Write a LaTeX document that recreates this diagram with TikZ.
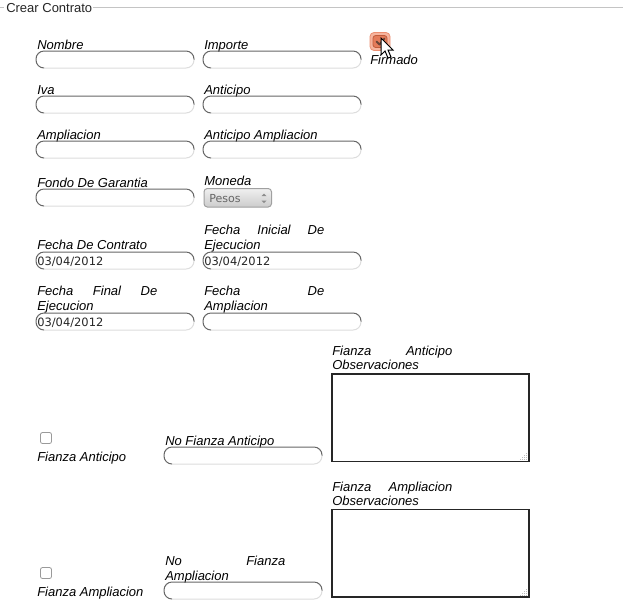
\documentclass[tikz,border=0pt]{standalone}
\usepackage{fontspec}
\setmainfont{Liberation Sans}
\newfontfamily\datefont{DejaVu Sans}
\definecolor{flddark}{HTML}{666666}
\definecolor{fldlight}{HTML}{DDDDDD}
\definecolor{legline}{HTML}{C4C4C4}
\definecolor{chkborder}{HTML}{9A9A9A}
\definecolor{orglow}{HTML}{F6B49E}
\definecolor{orglowb}{HTML}{EC8E70}
\definecolor{orbox}{HTML}{E47B5A}
\definecolor{orboxb}{HTML}{C05C3C}
\definecolor{chkmark}{HTML}{6A4436}
\definecolor{selb}{HTML}{A0A0A0}
\definecolor{seltxt}{HTML}{666666}
\definecolor{grip}{HTML}{BBBBBB}
\tikzset{
  lbl/.style={anchor=base west, inner sep=0pt, font=\fontsize{9.75}{11}\selectfont\itshape},
  legtxt/.style={anchor=base west, inner sep=0pt, font=\fontsize{9.75}{11}\selectfont, text=black!85},
  datetxt/.style={anchor=base west, inner sep=0pt, font=\fontsize{8.6}{10}\datefont, text=black!85},
  dkline/.style={draw=flddark, line width=0.75pt, rounded corners=6pt},
  ltline/.style={draw=fldlight, line width=0.75pt, rounded corners=6pt},
  chkbox/.style={draw=chkborder, line width=0.6pt, rounded corners=1.5pt, fill=white},
  tarea/.style={draw=black!85, line width=1.1pt, fill=white},
}
% text field: x, y (top), name
\newcommand\tfld[3]{%
  \coordinate (#3) at (#1,#2);
  \draw[ltline] (#1+158,#2+8.5) -- (#1+158,#2+17) -- (#1+8,#2+17);
  \draw[dkline] (#1+8,#2+17) -- (#1,#2+17) -- (#1,#2) -- (#1+158,#2) -- (#1+158,#2+8.5);
}
% textarea: x1,y1,x2,y2,name
\newcommand\tarea[5]{%
  \draw[tarea] (#1,#2) rectangle (#3,#4);
  \coordinate (#5) at (#1,#2);
  \foreach \gx/\gy in {-3/-2,-5/-2,-7/-2,-9/-2,-3/-4,-5/-4,-7/-4,-3/-6,-5/-6,-3/-8}{
    \fill[grip] (#3+\gx-0.5,#4+\gy-0.5) rectangle ++(1,1);
  }
}
\begin{document}
\begin{tikzpicture}[x=0.75pt,y=-0.75pt]
\useasboundingbox (0,0) rectangle (623,612);
\fill[white] (0,0) rectangle (623,612);

% fieldset legend
\draw[legline, line width=0.75pt] (0,7) -- (4,7);
\draw[legline, line width=0.75pt] (93,7) -- (623,7);
\node[legtxt] (legend) at (6,12) {Crear Contrato};

% row 1
\node[lbl] (lNombre) at (37,49) {Nombre};
\node[lbl] (lImporte) at (204,49) {Importe};
\tfld{36}{51}{fNombre}
\tfld{203}{51}{fImporte}

% Firmado checkbox
\draw[fill=orglow, draw=orglowb, line width=0.6pt, rounded corners=3pt] (370,32.5) rectangle (390,50.5);
\draw[fill=orbox, draw=orboxb, line width=0.6pt, rounded corners=2pt] (373,35.5) rectangle (387,47.5);
\draw[chkmark, line width=1.4pt, line cap=round, line join=round] (376.5,41.5) -- (379.5,44.5) -- (384.5,38.5);
\node[lbl] (lFirmado) at (370,64) {Firmado};
% mouse cursor
\draw[fill=white, draw=black, line width=0.75pt, line join=miter] (381,38) -- (381,55) -- (385,51) -- (388,58) -- (391,57) -- (388,50) -- (393,50) -- cycle;

% row 2
\node[lbl] (lIva) at (37,94) {Iva};
\node[lbl] (lAnticipo) at (204,94) {Anticipo};
\tfld{36}{96}{fIva}
\tfld{203}{96}{fAnticipo}

% row 3
\node[lbl] (lAmpliacion) at (37,139) {Ampliacion};
\node[lbl] (lAntAmp) at (204,139) {Anticipo Ampliacion};
\tfld{36}{141}{fAmpliacion}
\tfld{203}{141}{fAntAmp}

% row 4
\node[lbl] (lFondo) at (37,187) {Fondo De Garantia};
\tfld{36}{189}{fFondo}
\node[lbl] (lMoneda) at (204,185) {Moneda};
\shade[top color=black!6, bottom color=black!20, rounded corners=2.5pt] (204,188.5) rectangle (271.5,207);
\draw[selb, line width=0.75pt, rounded corners=2.5pt] (204,188.5) rectangle (271.5,207);
\node[anchor=base west, inner sep=0pt, font=\fontsize{8.3}{10}\datefont, text=seltxt] (sPesos) at (209,202) {Pesos};
\fill[black!45] (261.5,196) -- (266.5,196) -- (264,193.5) -- cycle;
\fill[black!45] (261.5,200.5) -- (266.5,200.5) -- (264,203) -- cycle;

% row 5
\node[lbl] (lFContrato) at (37,249) {Fecha De Contrato};
\node[lbl] (lFIni1) at (204,234) {\makebox[90pt][s]{Fecha Inicial De}};
\node[lbl] (lFIni2) at (204,249) {Ejecucion};
\tfld{36}{252}{fFContrato}
\tfld{203}{252}{fFIni}
\node[datetxt] (dFContrato) at (37,265) {03/04/2012};
\node[datetxt] (dFIni) at (204,265) {03/04/2012};

% row 6
\node[lbl] (lFFin1) at (37,295) {\makebox[90pt][s]{Fecha Final De}};
\node[lbl] (lFFin2) at (37,310) {Ejecucion};
\node[lbl] (lFAmp1) at (204,295) {\makebox[90pt][s]{Fecha De}};
\node[lbl] (lFAmp2) at (204,310) {Ampliacion};
\tfld{36}{313}{fFFin}
\tfld{203}{313}{fFAmp}
\node[datetxt] (dFFin) at (37,326) {03/04/2012};

% Fianza Anticipo block
\node[lbl] (lFAObs1) at (332,355) {\makebox[90pt][s]{Fianza Anticipo}};
\node[lbl] (lFAObs2) at (332,369) {Observaciones};
\tarea{332}{374}{529}{461.5}{tFAObs}
\draw[chkbox] (40.5,432.5) rectangle (51.5,443.5);
\coordinate (cFA) at (40.5,432.5);
\node[lbl] (lFA) at (37,461) {Fianza Anticipo};
\node[lbl] (lNoFA) at (165,445) {No Fianza Anticipo};
\tfld{164}{447}{fNoFA}

% Fianza Ampliacion block
\node[lbl] (lFAmObs1) at (332,491) {\makebox[90pt][s]{Fianza Ampliacion}};
\node[lbl] (lFAmObs2) at (332,505) {Observaciones};
\tarea{332}{509.5}{529}{597}{tFAmObs}
\draw[chkbox] (40.5,567.5) rectangle (51.5,578.5);
\coordinate (cFAm) at (40.5,567.5);
\node[lbl] (lFAm) at (37,596) {Fianza Ampliacion};
\node[lbl] (lNoFAm1) at (165,565) {\makebox[90pt][s]{No Fianza}};
\node[lbl] (lNoFAm2) at (165,580) {Ampliacion};
\tfld{164}{582}{fNoFAm}
\end{tikzpicture}
\end{document}
